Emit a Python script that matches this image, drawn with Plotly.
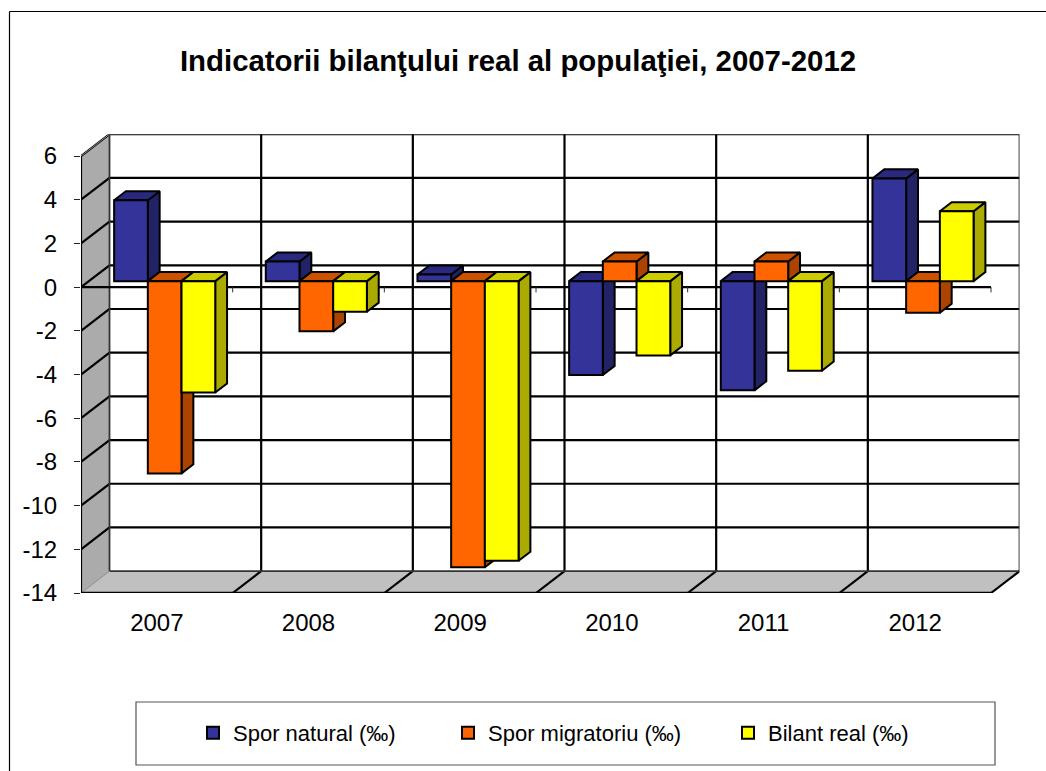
import plotly.graph_objects as go

# ---------- data ----------
YEARS = ["2007", "2008", "2009", "2010", "2011", "2012"]
SPOR_NATURAL = [3.7, 0.9, 0.3, -4.3, -5.0, 4.7]
SPOR_MIGRATORIU = [-8.8, -2.3, -13.1, 0.9, 0.9, -1.45]
BILANT_REAL = [-5.1, -1.4, -12.8, -3.4, -4.1, 3.2]
Y_TICKS = [6, 4, 2, 0, -2, -4, -6, -8, -10, -12, -14]
TITLE = "Indicatorii bilanţului real al populaţiei, 2007-2012"

SERIES = [
    ("Spor natural (‰)", SPOR_NATURAL, "#333399", "#292980", "#222266"),
    ("Spor migratoriu (‰)", SPOR_MIGRATORIU, "#FF6600", "#CC5200", "#AA4400"),
    ("Bilant real (‰)", BILANT_REAL, "#FFFF00", "#CCCC00", "#AAAA00"),
]

# ---------- 3-D projection constants (category / value units) ----------
W, H = 1046, 771
DX, DY = 28.5 / 151.67, 1.0          # full depth of the box
BAR_FRONT, BAR_BACK = 0.275, 0.69    # depth fractions of the bar block
GAP = 1 / 6
BAR_W = 2 / 9
n = len(YEARS)
LINE = 2.2
BLINE = 2
FONT = "Liberation Sans, Arial, sans-serif"

fig = go.Figure()


def poly(pts_list, fill, line_color, lw, z):
    xs, ys = [], []
    for pts in pts_list:
        xs += [p[0] for p in pts] + [pts[0][0], None]
        ys += [p[1] for p in pts] + [pts[0][1], None]
    fig.add_trace(go.Scatter(x=xs, y=ys, mode="lines", fill="toself", fillcolor=fill,
                             line=dict(color=line_color, width=lw), showlegend=False,
                             hoverinfo="skip", zorder=z))


def lines(segs, color, lw, z):
    xs, ys = [], []
    for (a, b) in segs:
        xs += [a[0], b[0], None]
        ys += [a[1], b[1], None]
    fig.add_trace(go.Scatter(x=xs, y=ys, mode="lines", line=dict(color=color, width=lw),
                             showlegend=False, hoverinfo="skip", zorder=z))


ymin, ymax = min(Y_TICKS), max(Y_TICKS)

# walls
poly([[(0, ymin), (DX, ymin + DY), (DX, ymax + DY), (0, ymax)]], "#ABABAB", "rgba(0,0,0,0)", 0, 0)
poly([[(0, ymin), (n, ymin), (n + DX, ymin + DY), (DX, ymin + DY)]], "#C0C0C0", "rgba(0,0,0,0)", 0, 0)

# back wall grid, wall grid
lines([((DX, t + DY), (n + DX, t + DY)) for t in Y_TICKS if t != ymin], "black", LINE, 1)
lines([((0, t), (DX, t + DY)) for t in Y_TICKS if t != ymin], "black", LINE, 1)
lines([((DX + i, ymin + DY), (DX + i, ymax + DY)) for i in range(1, n)], "black", LINE, 1)
lines([((i, ymin), (DX + i, ymin + DY)) for i in range(1, n + 1)], "black", LINE, 1)
lines([((DX, ymin + DY), (n + DX, ymin + DY))], "#333333", 1.6, 1)
lines([((DX, ymin + DY), (DX, ymax + DY)), ((n + DX, ymin + DY), (n + DX, ymax + DY))], "#333333", 1.8, 1)
lines([((0, ymin), (DX, ymin + DY)), ((0, ymax), (DX, ymax + DY))], "#8C8C8C", 1, 1)

# front axes
lines([((0, ymin), (0, ymax))], "black", LINE, 2)
lines([((0, ymin), (n, ymin))], "black", 2.6, 2)
lines([((0, 0), (n, 0))], "black", LINE, 2)
lines([((i, 0), (i, -0.24)) for i in range(1, n + 1)], "#333333", 1, 2)

# bars
base = BAR_FRONT * DY
x0 = BAR_FRONT * DX
ddx = (BAR_BACK - BAR_FRONT) * DX
ddy = (BAR_BACK - BAR_FRONT) * DY
z = 3
for k, (name, vals, front, top, side) in enumerate(SERIES):
    lefts = [i + x0 + GAP + k * BAR_W for i in range(n)]
    sides, tops = [], []
    for xl, v in zip(lefts, vals):
        xr = xl + BAR_W
        hi = base + max(v, 0)
        lo = base + min(v, 0)
        sides.append([(xr, lo), (xr + ddx, lo + ddy), (xr + ddx, hi + ddy), (xr, hi)])
        tops.append([(xl, hi), (xr, hi), (xr + ddx, hi + ddy), (xl + ddx, hi + ddy)])
    poly(sides, side, "black", BLINE, z)
    poly(tops, top, "black", BLINE, z)
    fig.add_trace(go.Bar(
        x=[l + BAR_W / 2 for l in lefts], y=vals, base=base, width=BAR_W, name=name,
        marker=dict(color=front, line=dict(color="black", width=BLINE)),
        legend="legend" if k == 0 else f"legend{k + 1}", zorder=z + 1,
    ))
    z += 2

# ---------- layout ----------
def leg(px, py=733):
    return dict(x=px / W, y=1 - py / H, xanchor="left", yanchor="middle", orientation="h",
                bgcolor="rgba(0,0,0,0)", borderwidth=0, indentation=-10,
                font=dict(family=FONT, size=22, color="black"))


fig.update_layout(
    width=W, height=H, margin=dict(l=0, r=0, t=0, b=0, autoexpand=False), paper_bgcolor="white",
    plot_bgcolor="rgba(0,0,0,0)", barmode="overlay", showlegend=True,
    title=dict(text=f"<b>{TITLE}</b>", x=518 / W, xanchor="center", y=1 - 61 / H, yanchor="middle",
               font=dict(family=FONT, size=29.4, color="black")),
    xaxis=dict(domain=[81 / W, (991 + 28.5) / W], range=[0, n + DX], showgrid=False, zeroline=False,
               showline=False, tickmode="array", tickvals=[i + 0.5 for i in range(n)], ticktext=YEARS,
               ticks="", ticklabelstandoff=13, tickangle=0, automargin=False,
               tickfont=dict(family=FONT, size=24, color="black")),
    yaxis=dict(domain=[1 - 593 / H, 1 - 134.2 / H], range=[ymin, ymax + DY], showgrid=False, zeroline=False,
               showline=False, tickmode="array", tickvals=Y_TICKS, ticktext=[str(t) for t in Y_TICKS],
               ticks="outside", ticklen=6, tickwidth=1, tickcolor="#222222", ticklabelstandoff=12,
               automargin=False, tickfont=dict(family=FONT, size=24, color="black")),
    legend=leg(203), legend2=leg(458), legend3=leg(738),
    shapes=[
        dict(type="rect", xref="paper", yref="paper", x0=136 / W, x1=995 / W, y0=1 - 702 / H, y1=1 - 765 / H,
             line=dict(color="#555555", width=1.2), layer="below"),
        dict(type="line", xref="paper", yref="paper", x0=9.5 / W, x1=1, y0=1 - 11.5 / H, y1=1 - 11.5 / H,
             line=dict(color="black", width=1.2)),
        dict(type="line", xref="paper", yref="paper", x0=9.5 / W, x1=9.5 / W, y0=1 - 11.5 / H, y1=0,
             line=dict(color="black", width=1.2)),
    ],
)

fig.write_html("out.html", config={"displayModeBar": False},
               post_script="document.body.style.margin='0';document.body.style.overflow='hidden';")
